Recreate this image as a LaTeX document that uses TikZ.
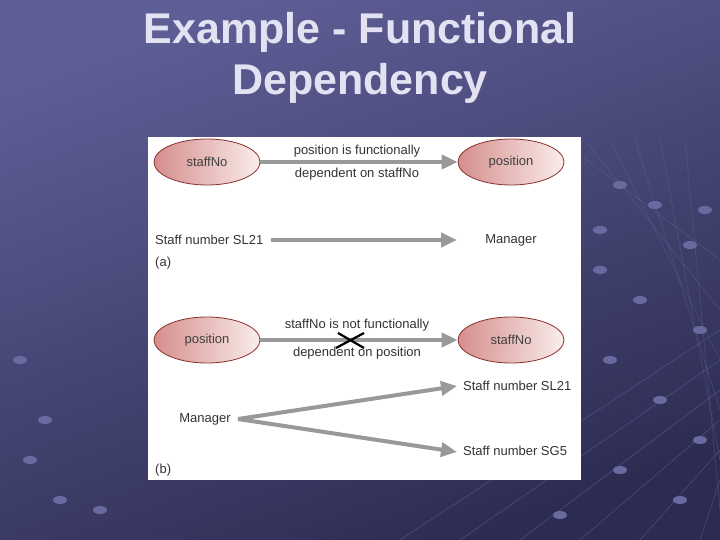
\documentclass[tikz,border=0pt]{standalone}
\usepackage{fontspec}
\setmainfont{Liberation Sans}
\usetikzlibrary{shapes.geometric,arrows.meta}
\definecolor{bgA}{HTML}{5E5E96}
\definecolor{bgB}{HTML}{2C2C52}
\definecolor{ttl}{HTML}{E2E2F2}
\definecolor{elL}{HTML}{D48E8C}
\definecolor{elR}{HTML}{FAEDEB}
\definecolor{elD}{HTML}{8A3030}
\definecolor{arr}{HTML}{999999}
\definecolor{gl}{HTML}{6A6AA0}
\tikzset{
  ent/.style={ellipse,draw=elD,line width=0.8pt,left color=elL,right color=elR,minimum width=106pt,minimum height=46pt,font=\fontsize{13}{15}\selectfont,text=black!75},
  lbl/.style={font=\fontsize{13}{15}\selectfont,text=black!80,inner sep=1pt},
  garrow/.style={draw=arr,line width=4pt,-{Triangle[length=16pt,width=14pt]}},
  dot/.style={fill=gl,draw=none}
}
\begin{document}
\begin{tikzpicture}[x=1pt,y=-1pt]
\useasboundingbox (0,0) rectangle (720,540);
\shade[top color=bgA,bottom color=bgB,shading angle=20] (0,0) rectangle (720,540);
% decorative grid
\foreach \i in {0,...,5}{
  \draw[gl,line width=0.6pt,opacity=0.5] (400+\i*60,540) -- (720,330+\i*30);
  \draw[gl,line width=0.6pt,opacity=0.4] (560+\i*25,140) -- (720,260+\i*50);
}
\foreach \p in {(620,185),(655,205),(690,245),(600,270),(640,300),(700,330),(610,360),(660,400),(700,440),(620,470),(680,500),(560,515),(30,460),(60,500),(100,510),(20,360),(45,420),(600,230),(705,210)}
  \fill[dot] \p ellipse (7pt and 4pt);
% title
\node[font=\bfseries\fontsize{43}{45}\selectfont,text=ttl] (t1) at (360,32) {Example - Functional};
\node[font=\bfseries\fontsize{43}{45}\selectfont,text=ttl] (t2) at (360,83) {Dependency};
% panel
\fill[white] (148,137) rectangle (581,480);
% (a)
\node[ent] (s1) at (207,162) {staffNo};
\node[ent] (p1) at (511,162) {position};
\draw[garrow] (s1.east) -- (p1.west);
\node[lbl] (l1) at (357,151) {position is functionally};
\node[lbl] (l2) at (357,174) {dependent on staffNo};
\node[lbl,anchor=west] (sn) at (154,240) {Staff number SL21};
\node[lbl] (mg) at (511,240) {Manager};
\draw[garrow] (sn.east) ++(6,0) coordinate (sa) -- (457,240) coordinate (sb);
\node[lbl,anchor=west] (a) at (154,263) {(a)};
% (b)
\node[ent] (p2) at (207,340) {position};
\node[ent] (s2) at (511,340) {staffNo};
\draw[garrow] (p2.east) -- (s2.west);
\node[lbl] (l3) at (357,325) {staffNo is not functionally};
\node[lbl] (l4) at (357,353) {dependent on position};
\draw[black,line width=2.2pt] (338,333) -- (364,348) (336,348) -- (364,333);
\node[lbl] (m2) at (205,419) {Manager};
\node[lbl,anchor=west] (t21) at (462,386) {Staff number SL21};
\node[lbl,anchor=west] (t5) at (462,451) {Staff number SG5};
\coordinate (mo) at (238,419);
\draw[garrow] (mo) -- (457,386);
\draw[garrow] (mo) -- (457,452);
\node[lbl,anchor=west] (b) at (154,470) {(b)};
\end{tikzpicture}
\end{document}
